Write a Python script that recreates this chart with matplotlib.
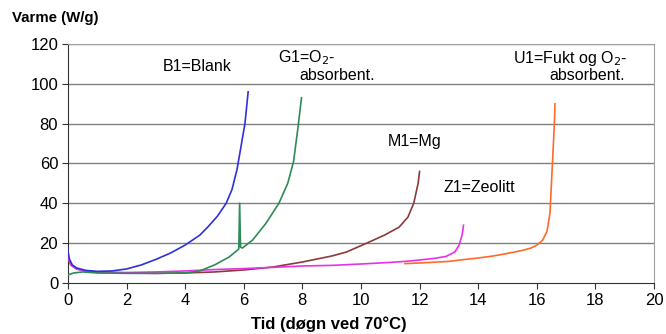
import matplotlib.pyplot as plt

plt.rcParams['font.family'] = ['Liberation Sans', 'DejaVu Sans']

# B1 = Blank
b1_x = [0, 0.05, 0.15, 0.3, 0.6, 1.0, 1.5, 2.0, 2.5, 3.0, 3.5, 4.0, 4.5, 4.8, 5.1, 5.4,
        5.6, 5.77, 5.9, 6.04, 6.15]
b1_y = [16, 12, 9, 7.5, 6.3, 5.8, 6.0, 7.0, 9.0, 11.8, 15, 19, 24, 28.5, 33.5, 40,
        47, 57, 68, 80, 96]

# G1 = O2-absorbent
g1_x = [0, 0.2, 0.5, 1.0, 2, 3, 4, 4.5, 5.0, 5.5, 5.83, 5.86, 5.89, 5.95, 6.3, 6.76,
        7.2, 7.5, 7.7, 7.85, 7.97]
g1_y = [4, 5, 5.5, 5.0, 4.8, 4.8, 5.0, 6, 9, 13, 17, 40, 18, 17.5, 21.5, 30,
        40, 50, 61, 78, 93]

# M1 = Mg
m1_x = [0, 0.1, 0.3, 0.6, 1, 2, 3, 4, 5, 6, 7, 8, 9, 9.5, 10.2, 10.8, 11.3, 11.6,
        11.8, 11.95, 12.0]
m1_y = [12, 9, 7, 6, 5.3, 5, 4.8, 5, 5.5, 6.5, 8, 10.5, 13.5, 15.5, 20, 24, 28, 33,
        40, 50, 56]

# Z1 = Zeolitt
z1_x = [0, 0.1, 0.3, 0.6, 1, 2, 3, 4, 5, 6, 7, 8, 9, 10, 11, 11.5, 12, 12.5, 12.9,
        13.2, 13.35, 13.45, 13.5]
z1_y = [13, 9, 7, 6, 5.5, 5.2, 5.5, 6, 6.7, 7.2, 7.8, 8.5, 8.8, 9.5, 10.3, 10.8, 11.5,
        12.3, 13.3, 15.5, 19, 24, 29]

# U1 = Fukt og O2-absorbent
u1_x = [11.5, 12, 13, 13.5, 14, 14.5, 15, 15.5, 15.8, 16.0, 16.2, 16.35, 16.45, 16.5,
        16.55, 16.6, 16.62]
u1_y = [9.7, 10, 10.8, 11.7, 12.5, 13.5, 14.8, 16.3, 17.5, 19, 21.5, 26, 35, 50,
        65, 80, 90]

fig = plt.figure(figsize=(6.66, 3.34), dpi=100)
ax = fig.add_axes([0.102, 0.153, 0.880, 0.715])

for y in range(20, 121, 20):
    ax.axhline(y, color='#808080', lw=1, zorder=1)

ax.plot(m1_x, m1_y, color='#8b3a3a', lw=1.2, zorder=3)
ax.plot(z1_x, z1_y, color='#e632e6', lw=1.2, zorder=3)
ax.plot(g1_x, g1_y, color='#2e8b57', lw=1.2, zorder=3)
ax.plot(b1_x, b1_y, color='#2f2fe0', lw=1.2, zorder=4)
ax.plot(u1_x, u1_y, color='#ff6a2a', lw=1.2, zorder=3)

ax.set_xlim(0, 20)
ax.set_ylim(0, 120)
ax.set_xticks(range(0, 21, 2))
ax.set_yticks(range(0, 121, 20))
ax.tick_params(labelsize=12, direction='out', length=4, color='#333333', pad=3)

ax.spines['top'].set_color('#a0a0a0')
ax.spines['right'].set_color('#a0a0a0')
ax.spines['left'].set_color('#333333')
ax.spines['bottom'].set_color('#333333')

fs = 11.5
ax.text(4.4, 108.5, 'B1=Blank', fontsize=fs, ha='center', va='center')
ax.text(7.17, 113, 'G1=O$_2$-', fontsize=fs, ha='left', va='center')
ax.text(7.9, 104, 'absorbent.', fontsize=fs, ha='left', va='center')
ax.text(15.2, 113, 'U1=Fukt og O$_2$-', fontsize=fs, ha='left', va='center')
ax.text(19.0, 104, 'absorbent.', fontsize=fs, ha='right', va='center')
ax.text(10.9, 71, 'M1=Mg', fontsize=fs, ha='left', va='center')
ax.text(12.8, 48, 'Z1=Zeolitt', fontsize=fs, ha='left', va='center')

fig.text(0.018, 0.945, 'Varme (W/g)', fontsize=10.8, fontweight='bold', ha='left', va='center')
fig.text(0.494, 0.028, 'Tid (døgn ved 70°C)', fontsize=12, fontweight='bold',
         ha='center', va='center')

fig.savefig('out.png', dpi=100)
